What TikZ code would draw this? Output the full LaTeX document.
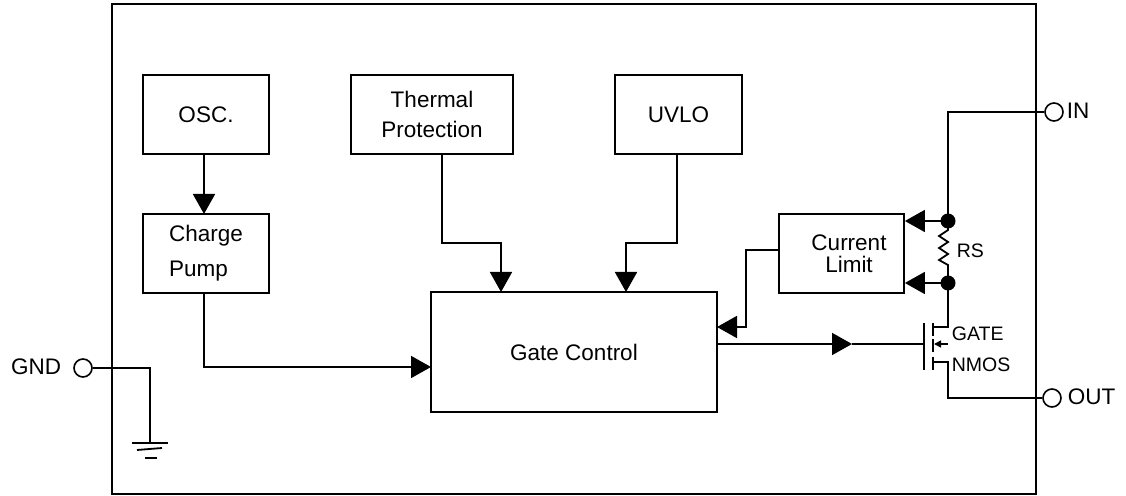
\documentclass[tikz,border=0pt]{standalone}
\usepackage{fontspec}
\setmainfont{Liberation Sans}
\usetikzlibrary{arrows.meta}
\newcommand{\fsmain}{\fontsize{22.5bp}{26bp}\selectfont}
\newcommand{\fssmall}{\fontsize{19.5bp}{22bp}\selectfont}
\begin{document}
\begin{tikzpicture}[x=1bp,y=-1bp,line width=1.8bp,line join=miter,
  blk/.style={draw,rectangle,inner sep=0pt,font=\fsmain,align=center},
  arr/.style={-{Triangle[length=20bp,width=22bp]}},
  smarr/.style={-{Triangle[length=7bp,width=7bp]}},
  pin/.style={circle,draw,minimum size=18bp,inner sep=0pt,line width=1.6bp},
  jdot/.style={circle,fill,minimum size=15bp,inner sep=0pt},
  lbl/.style={font=\fsmain,inner sep=0pt},
  slbl/.style={font=\fssmall,inner sep=0pt}]
\useasboundingbox (0,0) rectangle (1126,496);
% chip outline
\node[draw,line width=2.5bp,minimum width=924bp,minimum height=490bp,inner sep=0pt] (chip) at (574,249) {};
% blocks
\node[blk,minimum width=126bp,minimum height=79bp] (osc) at (206,114.5) {OSC.};
\node[blk,minimum width=126bp,minimum height=79bp,align=left] (cp) at (206,253.5) {Charge\\[9bp]Pump};
\node[blk,minimum width=162bp,minimum height=79bp] (th) at (432,114.5) {Thermal\\[4bp]Protection};
\node[blk,minimum width=127bp,minimum height=79bp] (uvlo) at (678.5,114.5) {UVLO};
\node[blk,minimum width=125bp,minimum height=79bp] (cl) at (841.5,253.5) {};
\node[lbl,align=center] (cltxt) at (849,254) {Current\\[-4bp]Limit};
\node[blk,minimum width=286bp,minimum height=120bp] (gc) at (574,352) {Gate Control};
% coordinates
\coordinate (oscout) at (204,154);
\coordinate (cpin) at (204,214);
\coordinate (cpout) at (204,293);
\coordinate (gcin0) at (431,367);
\coordinate (thout) at (442,154);
\coordinate (gcin1) at (501,292);
\coordinate (uvout) at (677,154);
\coordinate (gcin2) at (626,292);
\coordinate (clout) at (779,250);
\coordinate (gcin3) at (717,327);
\coordinate (gcout) at (717,344);
\coordinate (gate) at (924,344);
% connectors
\draw[arr] (oscout) -- (cpin);
\draw[arr] (cpout) -- (204,367) -- (gcin0);
\draw[arr] (thout) -- (442,243) -- (501,243) -- (gcin1);
\draw[arr] (uvout) -- (677,243) -- (626,243) -- (gcin2);
\draw[arr] (clout) -- (746,250) -- (746,327) -- (gcin3);
\draw[arr] (gcout) -- (852,344);
\draw (852,344) -- (gate);
% IN and sense resistor
\node[pin] (in) at (1054,112) {};
\node[lbl,anchor=west] (intxt) at (1066,111) {IN};
\node[jdot] (d1) at (948,221) {};
\node[jdot] (d2) at (948,283) {};
\draw (d1.center) -- (948,112) -- (in.west);
\draw[arr] (d1.center) -- (cl.east |- d1.center);
\draw[arr] (d2.center) -- (cl.east |- d2.center);
\draw (d1.center) -- (948,230) -- (939,236) -- (948,242) -- (939,248) -- (948,254) -- (939,260) -- (948,265) -- (d2.center);
\node[slbl,anchor=west] (rs) at (956,251) {RS};
% NMOS
\coordinate (gtop) at (924,323);
\coordinate (gbot) at (924,370);
\draw (gtop) -- (gbot);
\draw (933,323) -- (933,336);
\draw (933,339) -- (933,352);
\draw (933,357) -- (933,370);
\draw (933,327) -- (948,327) -- (d2.center);
\node[pin] (out) at (1052,398) {};
\node[lbl,anchor=west] (outtxt) at (1067,397) {OUT};
\draw (933,362) -- (948,362) -- (948,398) -- (out.west);
\draw[smarr,line width=1.5bp] (948,344) -- (934,344);
\node[slbl,anchor=west] (gatetxt) at (951,334) {GATE};
\node[slbl,anchor=west] (nmostxt) at (951,365) {NMOS};
% GND
\node[pin] (gnd) at (83,368) {};
\node[lbl,anchor=east] (gndtxt) at (62,367) {GND};
\coordinate (gref) at (150,443);
\draw (gnd.east) -- (150,368) -- (gref);
\draw (132,443) -- (168,443);
\draw (137,450) -- (162,448);
\draw (145,458) -- (157,458);
\end{tikzpicture}
\end{document}
